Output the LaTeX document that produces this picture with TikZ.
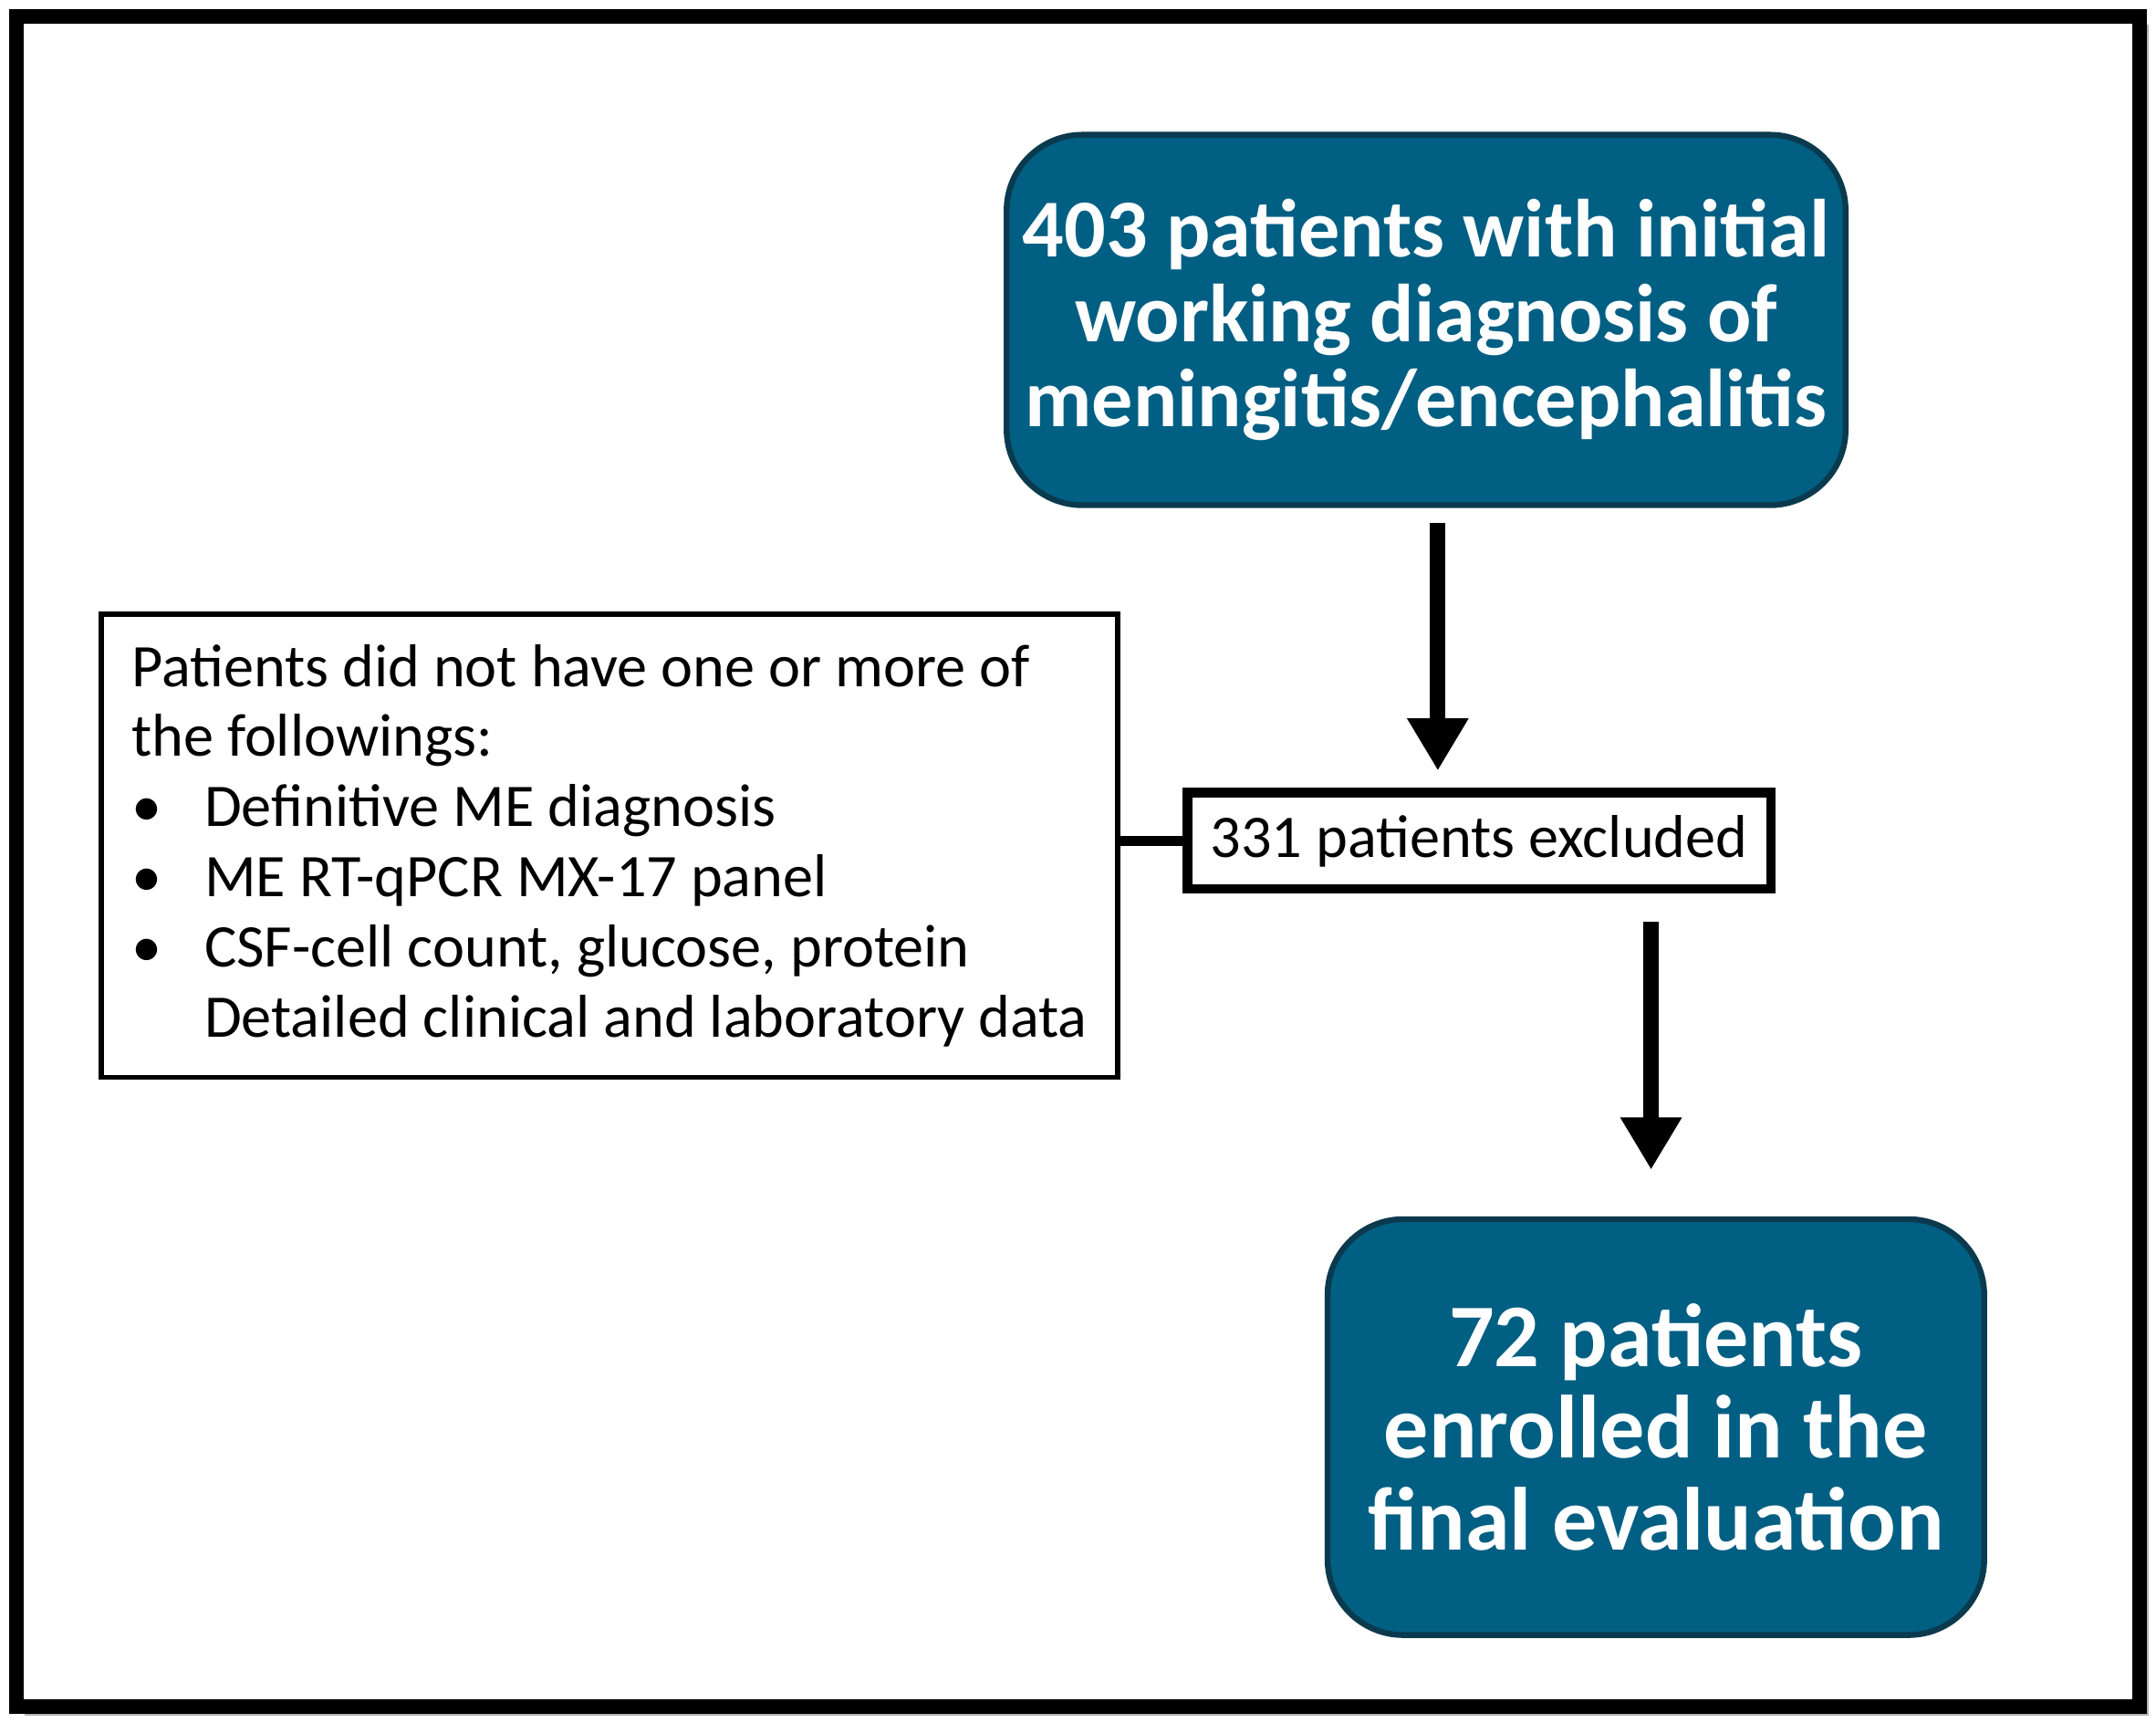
\documentclass[tikz,border=0pt]{standalone}
\usepackage{fontspec}
\setmainfont{Carlito}
\usetikzlibrary{arrows.meta}
\definecolor{boxblue}{HTML}{005F83}
\definecolor{boxedge}{HTML}{0B3A4E}
\newcommand{\bitem}[1]{\makebox[0.53cm][l]{\textbullet}#1}

\begin{document}
\begin{tikzpicture}[x=0.01cm, y=-0.01cm,
    blue box/.style={rectangle, rounded corners=0.55cm, draw=boxedge, line width=1.2pt,
      fill=boxblue, text=white, font=\fontsize{17}{17.6}\selectfont\bfseries, align=center},
    flow/.style={line width=3.2pt, -{Triangle[length=0.38cm, width=0.42cm]}}]
    \useasboundingbox (0,0) rectangle (1567,1252);
    \fill[gray!60] (18,18) rectangle (1562,1247);
    \draw[line width=3pt, fill=white] (12,12) rectangle (1555,1240);

    \begin{scope}[every node/.style={blue box}]
      \node[minimum width=5.67cm, minimum height=2.69cm] (start) at (1036.5, 232.5)
        {403 patients with initial\\working diagnosis of\\meningitis/encephalitis};
      \node[minimum width=4.77cm, minimum height=3.02cm, font=\fontsize{18.5}{19}\selectfont\bfseries]
        (final) at (1203.5, 1037) {72 patients\\enrolled in the\\final evaluation};
    \end{scope}

    \node[draw, line width=2pt, minimum width=4.24cm, minimum height=0.7cm,
      font=\fontsize{12.5}{14}\selectfont] (excl) at (1075, 611) {331 patients excluded};
    \node[draw, line width=1pt, minimum width=7.14cm, minimum height=3.35cm,
      align=left, font=\fontsize{12.5}{14.5}\selectfont, inner sep=0.22cm] (crit) at (443, 614.5)
      {Patients did not have one or more of\\the followings:\\
       \bitem{Definitive ME diagnosis}\\
       \bitem{ME RT-qPCR MX-17 panel}\\
       \bitem{CSF-cell count, glucose, protein}\\
       \hspace*{0.53cm}Detailed clinical and laboratory data};

    \coordinate (a1) at (1045, 380);
    \coordinate (a1e) at (1045, 560);
    \coordinate (a2) at (1200, 670);
    \coordinate (a2e) at (1200, 850);
    \draw[flow] (a1) -- (a1e);
    \draw[flow] (a2) -- (a2e);
    \draw[line width=2pt] (crit.east |- excl.west) -- (excl.west);
\end{tikzpicture}
\end{document}
